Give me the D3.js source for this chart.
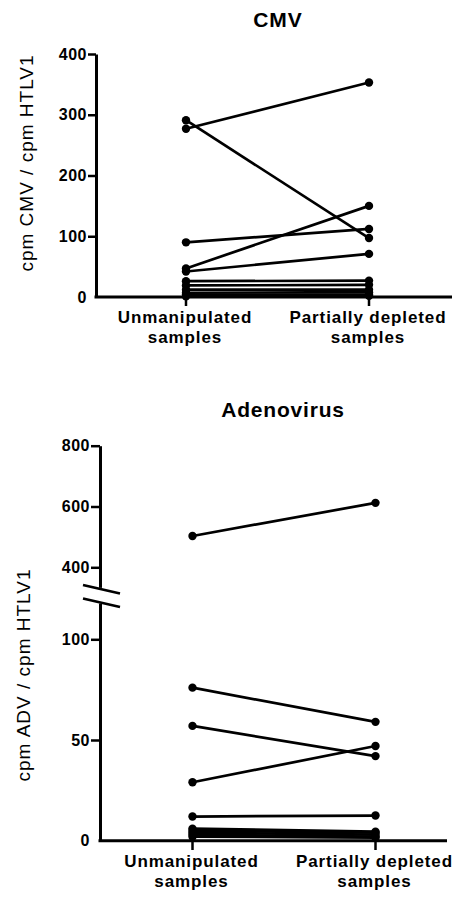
<!DOCTYPE html>
<html><head><meta charset="utf-8">
<script src="https://cdn.jsdelivr.net/npm/d3@7"></script>
<style>
html,body{margin:0;padding:0;background:#fff;}
svg{display:block;}
text{font-family:"Liberation Sans",Arial,sans-serif;fill:#000;}
</style></head>
<body><svg id="c" width="452" height="897"></svg>
<script>
// ---------- data ----------
const categories = ["Unmanipulated|samples", "Partially depleted|samples"];
const cmvUnmanipulated = [291, 277, 90, 47, 42, 26, 19, 12, 7, 4, 1];
const cmvDepleted      = [97, 353, 112, 150, 71, 27, 20, 12, 8, 4, 2];
const cmvTicks = [0, 100, 200, 300, 400];
const advUnmanipulated = [503, 76, 57, 29, 12, 6, 5, 4, 3, 2];
const advDepleted      = [612, 59, 42, 47, 12.5, 4.5, 4, 3, 2, 1.5];
const advTicksLow = [0, 50, 100];
const advTicksHigh = [400, 600, 800];

const svg = d3.select("#c");

function catLabels(g, x, y0) {
  categories.forEach((c, i) => {
    const lines = c.split("|");
    lines.forEach((l, j) => {
      g.append("text").attr("x", x(i) - 1).attr("y", y0 + j * 20)
        .attr("text-anchor", "middle").attr("font-size", 17).attr("font-weight", "bold")
        .attr("letter-spacing", 0.9).text(l);
    });
  });
}

function drawPairs(g, a, b, x, y) {
  const pairs = a.map((v, i) => [v, b[i]]);
  g.selectAll("line.pair").data(pairs).enter().append("line")
    .attr("x1", x(0)).attr("x2", x(1))
    .attr("y1", d => y(d[0])).attr("y2", d => y(d[1]))
    .attr("stroke", "#000").attr("stroke-width", 2.7);
  pairs.forEach(d => {
    [0, 1].forEach(k => g.append("circle").attr("cx", x(k)).attr("cy", y(d[k])).attr("r", 4.2).attr("fill", "#000"));
  });
}

function styleAxis(g) {
  g.selectAll("path.domain").attr("stroke", "#000").attr("stroke-width", 3);
  g.selectAll(".tick line").attr("stroke", "#000").attr("stroke-width", 2.5);
  g.selectAll(".tick text").attr("font-family", "Liberation Sans, Arial, sans-serif")
    .attr("font-size", 16).attr("font-weight", "bold").attr("fill", "#000").attr("letter-spacing", 0.5);
}

// ---------- CMV ----------
{
  const g = svg.append("g");
  const x = d3.scaleOrdinal().domain([0, 1]).range([186, 369]);
  const y = d3.scaleLinear().domain([0, 400]).range([297, 54]);
  g.append("text").attr("x", 278).attr("y", 27).attr("text-anchor", "middle")
    .attr("font-size", 21).attr("font-weight", "bold").attr("letter-spacing", 1).text("CMV");
  const ya = g.append("g").attr("transform", "translate(96,0)")
    .call(d3.axisLeft(y).tickValues(cmvTicks).tickSize(8).tickSizeOuter(0).tickPadding(1));
  styleAxis(ya);
  ya.selectAll(".tick line").filter(d => d === 0).remove();
  g.append("line").attr("x1", 94.5).attr("x2", 452).attr("y1", 297).attr("y2", 297)
    .attr("stroke", "#000").attr("stroke-width", 3);
  [0, 1].forEach(k => g.append("line").attr("x1", x(k)).attr("x2", x(k)).attr("y1", 297).attr("y2", 306)
    .attr("stroke", "#000").attr("stroke-width", 2.5));
  drawPairs(g, cmvUnmanipulated, cmvDepleted, x, y);
  g.append("text").attr("transform", "translate(33,163) rotate(-90)").attr("text-anchor", "middle")
    .attr("font-size", 19).attr("letter-spacing", 1).text("cpm CMV / cpm HTLV1");
  catLabels(g, x, 323);
}

// ---------- Adenovirus ----------
{
  const g = svg.append("g");
  const x = d3.scaleOrdinal().domain([0, 1]).range([192.5, 375.5]);
  const yLow = d3.scaleLinear().domain([0, 100]).range([840.7, 639.3]);
  const yHigh = d3.scaleLinear().domain([400, 800]).range([567.3, 445.7]);
  const lowTop = 118, highBottom = 334;
  const y = v => v <= lowTop ? yLow(v) : yHigh(v);
  g.append("text").attr("x", 283).attr("y", 417).attr("text-anchor", "middle")
    .attr("font-size", 21).attr("font-weight", "bold").attr("letter-spacing", 0.8).text("Adenovirus");
  const yl = d3.scaleLinear().domain([0, lowTop]).range([yLow(0), yLow(lowTop)]);
  const yh = d3.scaleLinear().domain([highBottom, 800]).range([yHigh(highBottom), yHigh(800)]);
  const a1 = g.append("g").attr("transform", "translate(100,0)")
    .call(d3.axisLeft(yl).tickValues(advTicksLow).tickSize(9).tickSizeOuter(0).tickPadding(1));
  const a2 = g.append("g").attr("transform", "translate(100,0)")
    .call(d3.axisLeft(yh).tickValues(advTicksHigh).tickSize(9).tickSizeOuter(0).tickPadding(1));
  styleAxis(a1); styleAxis(a2);
  a1.selectAll(".tick line").filter(d => d === 0).remove();
  // break marks
  [0, 13.5].forEach(off => g.append("line").attr("x1", 83).attr("x2", 120)
    .attr("y1", 585 + off).attr("y2", 593.5 + off).attr("stroke", "#000").attr("stroke-width", 2.8));
  g.append("line").attr("x1", 98.5).attr("x2", 447).attr("y1", 840.7).attr("y2", 840.7)
    .attr("stroke", "#000").attr("stroke-width", 3);
  [0, 1].forEach(k => g.append("line").attr("x1", x(k)).attr("x2", x(k)).attr("y1", 840.7).attr("y2", 850)
    .attr("stroke", "#000").attr("stroke-width", 2.5));
  drawPairs(g, advUnmanipulated, advDepleted, x, y);
  g.append("text").attr("transform", "translate(30,675) rotate(-90)").attr("text-anchor", "middle")
    .attr("font-size", 19).attr("letter-spacing", 1).text("cpm ADV / cpm HTLV1");
  catLabels(g, x, 866.5);
}
</script></body></html>
